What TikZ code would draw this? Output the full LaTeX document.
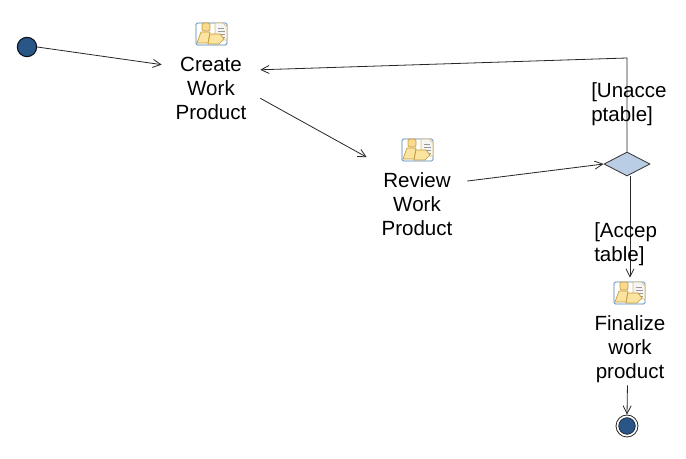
\documentclass[tikz,border=0pt]{standalone}
\usepackage{fontspec}
\setmainfont{Liberation Sans}
\usetikzlibrary{arrows.meta,shapes.geometric}
\definecolor{nodeblue}{HTML}{2A5587}
\definecolor{diamondblue}{HTML}{B9CDE5}
\definecolor{iconyellow}{HTML}{FBE4A0}
\definecolor{iconedge}{HTML}{C49A3A}
\definecolor{iconframe}{HTML}{4A7FB0}

\begin{document}
\begin{tikzpicture}[x=0.75pt, y=-0.75pt, >={Straight Barb[length=6pt,width=6pt]}]
\tikzset{
   action/.style={rectangle, inner sep=0pt, align=center, font=\fontsize{15.4}{18}\selectfont},
   guard/.style={rectangle, inner sep=0pt, align=left, anchor=west, font=\fontsize{15.4}{18}\selectfont},
   iconbox/.style={rectangle, inner sep=0pt, minimum width=24pt, minimum height=22.5pt},
   startnode/.style={circle, draw=black!80!nodeblue, fill=nodeblue, thick, inner sep=0pt, minimum size=14.5pt},
   link/.style={->, black!85, line width=0.6pt},
   workicon/.pic={
      \draw[iconframe, line width=0.6pt, rounded corners=1pt] (-16,-11) rectangle (15,11);
      \draw[iconedge!70, fill=black!4, line width=0.4pt] (3,-11) -- (11,-11) -- (15,-7) -- (15,6) -- (3,6) -- cycle;
      \draw[black!40, line width=0.4pt] (6,-6) -- (12,-6) (6,-3) -- (13,-3) (7,0) -- (13,0) (9,3) -- (13,3);
      \draw[iconedge, fill=iconyellow!90!orange, line width=0.5pt, rounded corners=1.5pt] (-10,-11) rectangle (-2,-3);
      \draw[iconedge, fill=iconyellow, line width=0.5pt] (-11,-2) -- (-2,-2) -- (-4,9) -- (-15,9) -- cycle;
      \draw[iconedge, fill=iconyellow, line width=0.5pt] (-2,0) -- (8,0) -- (12,5) -- (7,10) -- (-4,10) -- cycle;
   },
}
\useasboundingbox (0,0) rectangle (686,459);

\node[startnode] (start) at (27,47) {};
\node[action, minimum width=73.5pt, minimum height=54pt] (create) at (211,88.7) {Create\\Work\\Product};
\node[iconbox] (createicon) at (212,34) {};
\pic at (createicon) {workicon};
\node[action, minimum width=75pt, minimum height=70.5pt] (review) at (417,204.5) {Review\\Work\\Product};
\node[iconbox] (reviewicon) at (418,150) {};
\pic at (reviewicon) {workicon};
\node[diamond, draw=black!80, fill=diamondblue, line width=0.6pt, inner sep=0pt, minimum width=34.5pt, minimum height=18pt] (decision) at (627,164) {};
\node[action, minimum width=54pt, minimum height=54pt] (finalize) at (630,349) {Finalize\\work\\product};
\node[iconbox] (finalizeicon) at (630,293) {};
\pic at (finalizeicon) {workicon};
\node[circle, draw=black!85, line width=0.6pt, inner sep=0pt, minimum size=16.5pt] (finish) at (627,426) {};
\node[circle, draw=black!80!nodeblue, fill=nodeblue, inner sep=0pt, minimum size=12.5pt] (finishdot) at (627,426) {};
\coordinate (corner) at (627,58);

\draw[link] (start.east) -- (create.154.9);
\draw[link] (create.-11.5) -- (review.north west);
\draw[link] (review.25) -- (decision.west);
\draw[link] (decision.north) -- (corner) -- (create.21);
\draw[link] ([xshift=2.25pt]decision.south) -- (finalizeicon.north);
\draw[link] (finalize.-94.8) -- (finish.north);

\node[guard] (unacceptable) at (591,104) {[Unacce\\ptable]};
\node[guard] (acceptable) at (594,244) {[Accep\\table]};
\end{tikzpicture}
\end{document}
